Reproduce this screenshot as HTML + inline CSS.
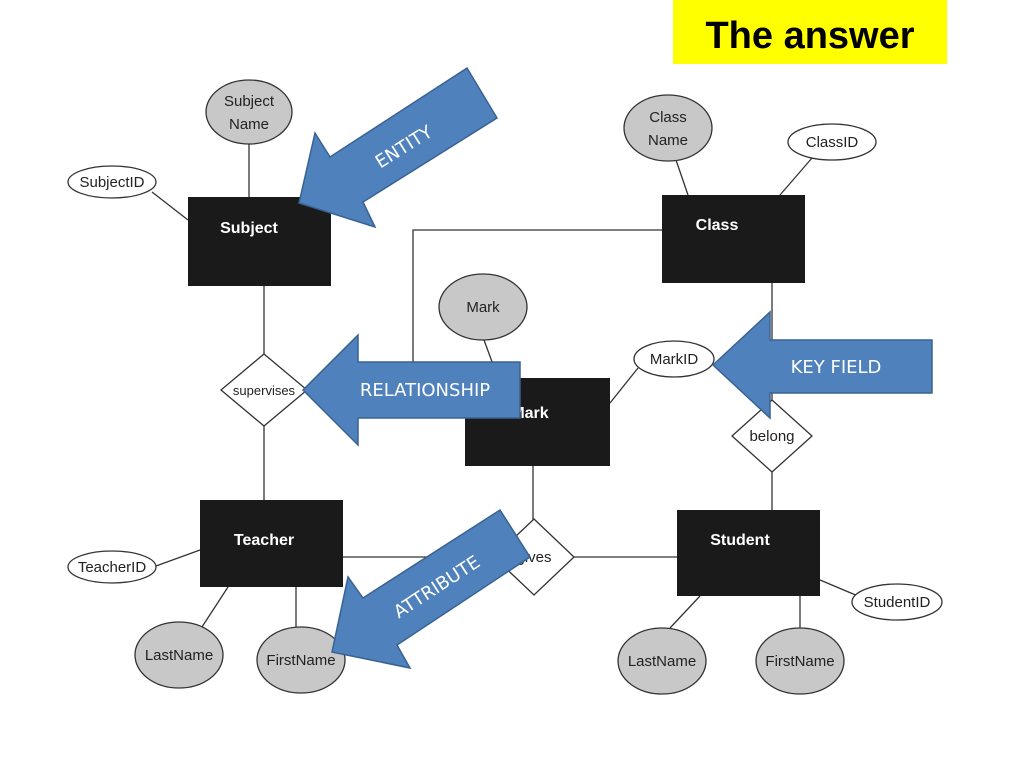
<!DOCTYPE html>
<html><head><meta charset="utf-8"><style>
html,body{margin:0;padding:0;background:#fff;}
svg{display:block;}
.t{font-family:"Liberation Sans",Arial,sans-serif;font-size:15px;fill:#222;text-anchor:middle;}
.w{font-family:"Liberation Sans",Arial,sans-serif;font-size:16px;font-weight:bold;fill:#fff;text-anchor:middle;}
.a{font-family:"DejaVu Sans","Liberation Sans",sans-serif;font-size:18px;fill:#fff;text-anchor:middle;}
</style></head><body>
<svg width="1024" height="768" viewBox="0 0 1024 768" xmlns="http://www.w3.org/2000/svg">
<rect x="673" y="0" width="274" height="64" fill="#ffff00"/>
<text x="810" y="48" font-family="Liberation Sans,Arial,sans-serif" font-size="38" font-weight="bold" text-anchor="middle" fill="#000">The answer</text>

<g stroke="#333" stroke-width="1.3" fill="none">
<line x1="249" y1="144" x2="249" y2="197"/>
<line x1="152" y1="192" x2="188" y2="220"/>
<line x1="264" y1="286" x2="264" y2="355"/>
<line x1="264" y1="426" x2="264" y2="500"/>
<line x1="156" y1="566" x2="200" y2="550"/>
<line x1="200" y1="630" x2="228" y2="587"/>
<line x1="296" y1="587" x2="296" y2="627"/>
<line x1="343" y1="557" x2="497" y2="557"/>
<line x1="574" y1="557" x2="677" y2="557"/>
<line x1="533" y1="466" x2="533" y2="520"/>
<line x1="484" y1="340" x2="498" y2="378"/>
<line x1="610" y1="403" x2="638" y2="368"/>
<line x1="676" y1="160" x2="688" y2="195"/>
<line x1="812" y1="158" x2="780" y2="195"/>
<polyline points="662,230 413,230 413,378"/>
<line x1="772" y1="283" x2="772" y2="400"/>
<line x1="772" y1="472" x2="772" y2="510"/>
<line x1="820" y1="580" x2="858" y2="596"/>
<line x1="670" y1="628" x2="700" y2="596"/>
<line x1="800" y1="628" x2="800" y2="596"/>
</g>

<g fill="#1a1a1a">
<rect x="188" y="197" width="143" height="89"/>
<rect x="200" y="500" width="143" height="87"/>
<rect x="465" y="378" width="145" height="88"/>
<rect x="662" y="195" width="143" height="88"/>
<rect x="677" y="510" width="143" height="86"/>
</g>
<text class="w" x="249" y="233">Subject</text>
<text class="w" x="264" y="545">Teacher</text>
<text class="w" x="530" y="418">Mark</text>
<text class="w" x="717" y="230">Class</text>
<text class="w" x="740" y="545">Student</text>

<g stroke="#333" stroke-width="1.3">
<ellipse cx="249" cy="112" rx="43" ry="32" fill="#c8c8c8"/>
<ellipse cx="112" cy="182" rx="44" ry="16" fill="#fff"/>
<ellipse cx="112" cy="567" rx="44" ry="16" fill="#fff"/>
<ellipse cx="179" cy="655" rx="44" ry="33" fill="#c8c8c8"/>
<ellipse cx="301" cy="660" rx="44" ry="33" fill="#c8c8c8"/>
<ellipse cx="483" cy="307" rx="44" ry="33" fill="#c8c8c8"/>
<ellipse cx="674" cy="359" rx="40" ry="18" fill="#fff"/>
<ellipse cx="668" cy="128" rx="44" ry="33" fill="#c8c8c8"/>
<ellipse cx="832" cy="142" rx="44" ry="18" fill="#fff"/>
<ellipse cx="897" cy="602" rx="45" ry="18" fill="#fff"/>
<ellipse cx="662" cy="661" rx="44" ry="33" fill="#c8c8c8"/>
<ellipse cx="800" cy="661" rx="44" ry="33" fill="#c8c8c8"/>
<polygon points="264,354 307,390 264,426 221,390" fill="#fff"/>
<polygon points="534,519 574,557 534,595 494,557" fill="#fff"/>
<polygon points="772,400 812,436 772,472 732,436" fill="#fff"/>
</g>
<text class="t" x="249" y="106">Subject</text>
<text class="t" x="249" y="129">Name</text>
<text class="t" x="112" y="187">SubjectID</text>
<text class="t" x="112" y="572">TeacherID</text>
<text class="t" x="179" y="660">LastName</text>
<text class="t" x="301" y="665">FirstName</text>
<text class="t" x="483" y="312">Mark</text>
<text class="t" x="674" y="364">MarkID</text>
<text class="t" x="668" y="122">Class</text>
<text class="t" x="668" y="145">Name</text>
<text class="t" x="832" y="147">ClassID</text>
<text class="t" x="897" y="607">StudentID</text>
<text class="t" x="662" y="666">LastName</text>
<text class="t" x="800" y="666">FirstName</text>
<text class="t" x="264" y="395" style="font-size:13px">supervises</text>
<text class="t" x="534" y="562">gives</text>
<text class="t" x="772" y="441">belong</text>

<g fill="#4f81bd" stroke="#3a6291" stroke-width="1.5">
<polygon points="299,203 315,133 330,157 467,68 497,118 363,202 375,227"/>
<polygon points="303,390 358,335 358,362 520,362 520,418 358,418 358,445"/>
<polygon points="713,365 770,312 770,340 932,340 932,393 770,393 770,418"/>
<polygon points="332,652 348,577 363,598 500,510 530,557 397,645 410,668"/>
</g>
<text class="a" transform="translate(407,152) rotate(-32)">ENTITY</text>
<text class="a" x="425" y="396">RELATIONSHIP</text>
<text class="a" x="836" y="373">KEY FIELD</text>
<text class="a" transform="translate(440,592) rotate(-33)">ATTRIBUTE</text>
</svg>
</body></html>
